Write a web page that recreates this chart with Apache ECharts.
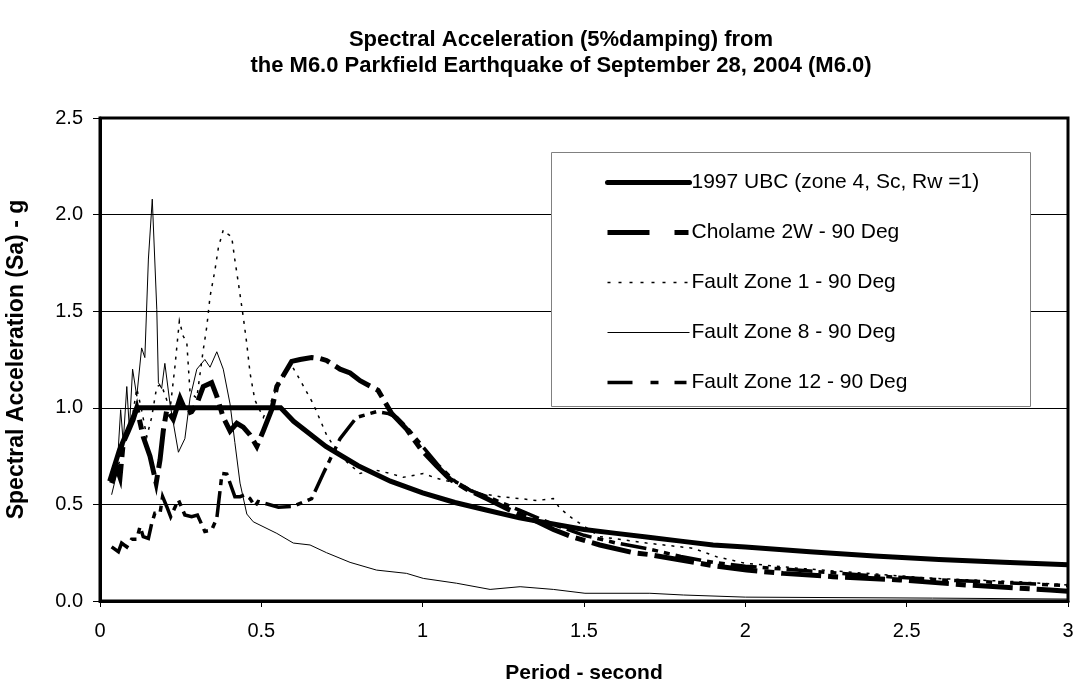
<!DOCTYPE html>
<html>
<head>
<meta charset="utf-8">
<script src="https://cdn.jsdelivr.net/npm/echarts@6/dist/echarts.min.js"></script>
<style>
html,body{margin:0;padding:0;background:#fff;}
#chart{width:1074px;height:683px;}
</style>
</head>
<body>
<div id="chart"></div>
<script>
var titleLines = ["Spectral Acceleration (5%damping) from", "the M6.0 Parkfield Earthquake of September 28, 2004 (M6.0)"];
var xAxisName = "Period - second";
var yAxisName = "Spectral Acceleration (Sa) - g";
var seriesNames = ["1997 UBC (zone 4, Sc, Rw =1)", "Cholame 2W - 90 Deg", "Fault Zone 1 - 90 Deg", "Fault Zone 8 - 90 Deg", "Fault Zone 12 - 90 Deg"];

var ubc = [[0.03,0.62],[0.06,0.78],[0.09,0.9],[0.115,1.0],[0.56,1.0],[0.6,0.93],[0.7,0.8],[0.8,0.7],[0.9,0.62],[1.0,0.56],[1.1,0.51],[1.2,0.47],[1.3,0.43],[1.4,0.40],[1.5,0.37],[1.6,0.35],[1.7,0.33],[1.8,0.31],[1.9,0.29],[2.0,0.28],[2.2,0.255],[2.4,0.233],[2.6,0.215],[2.8,0.2],[3.0,0.187]];

var cholame = [[0.036,0.61],[0.052,0.69],[0.062,0.64],[0.072,0.82],[0.088,0.88],[0.103,0.94],[0.114,1.0],[0.134,0.85],[0.155,0.75],[0.174,0.61],[0.186,0.73],[0.196,0.88],[0.207,0.99],[0.227,0.94],[0.248,1.05],[0.269,0.97],[0.284,0.98],[0.300,1.02],[0.320,1.11],[0.346,1.13],[0.362,1.06],[0.382,0.95],[0.403,0.88],[0.424,0.92],[0.444,0.90],[0.465,0.86],[0.486,0.80],[0.506,0.88],[0.532,0.99],[0.548,1.11],[0.594,1.24],[0.62,1.25],[0.656,1.26],[0.682,1.255],[0.702,1.245],[0.744,1.20],[0.775,1.18],[0.806,1.14],[0.862,1.09],[0.904,0.97],[0.950,0.89],[0.997,0.78],[1.043,0.70],[1.085,0.63],[1.136,0.58],[1.198,0.53],[1.271,0.47],[1.343,0.42],[1.405,0.37],[1.467,0.33],[1.549,0.29],[1.653,0.25],[1.704,0.24],[1.911,0.18],[2.004,0.16],[2.117,0.143],[2.272,0.126],[2.479,0.109],[2.686,0.083],[2.944,0.057],[3.0,0.05]];

var faultZone1 = [[0.036,0.62],[0.06,0.72],[0.08,0.85],[0.10,0.95],[0.114,1.10],[0.13,0.98],[0.145,0.85],[0.16,0.95],[0.176,1.11],[0.19,1.12],[0.205,1.05],[0.217,0.99],[0.232,1.21],[0.246,1.45],[0.258,1.37],[0.269,1.34],[0.279,1.08],[0.30,1.05],[0.32,1.30],[0.331,1.42],[0.341,1.575],[0.356,1.71],[0.367,1.83],[0.382,1.92],[0.395,1.90],[0.408,1.886],[0.418,1.765],[0.429,1.644],[0.444,1.47],[0.455,1.33],[0.465,1.18],[0.480,1.04],[0.506,0.95],[0.532,1.04],[0.56,1.15],[0.594,1.22],[0.620,1.144],[0.661,1.02],[0.702,0.86],[0.744,0.75],[0.806,0.66],[0.847,0.68],[0.90,0.66],[0.94,0.64],[1.002,0.66],[1.043,0.635],[1.105,0.61],[1.178,0.557],[1.24,0.54],[1.302,0.53],[1.353,0.52],[1.405,0.53],[1.425,0.48],[1.462,0.43],[1.549,0.333],[1.694,0.30],[1.839,0.273],[1.911,0.229],[2.0,0.195],[2.169,0.169],[2.376,0.143],[2.582,0.117],[2.841,0.10],[3.0,0.083]];

var faultZone8 = [[0.036,0.55],[0.052,0.66],[0.064,0.99],[0.072,0.82],[0.083,1.11],[0.091,0.89],[0.101,1.20],[0.114,1.06],[0.129,1.31],[0.139,1.26],[0.150,1.77],[0.162,2.08],[0.176,1.51],[0.181,1.13],[0.191,1.10],[0.201,1.23],[0.217,1.02],[0.243,0.77],[0.263,0.84],[0.279,1.05],[0.300,1.20],[0.325,1.25],[0.341,1.21],[0.362,1.29],[0.382,1.20],[0.403,1.02],[0.418,0.82],[0.434,0.61],[0.455,0.45],[0.475,0.41],[0.548,0.35],[0.599,0.30],[0.651,0.29],[0.702,0.25],[0.775,0.20],[0.857,0.16],[0.950,0.143],[1.002,0.117],[1.105,0.092],[1.209,0.06],[1.302,0.074],[1.405,0.06],[1.503,0.04],[1.704,0.04],[1.808,0.031],[2.0,0.02],[2.58,0.015],[3.0,0.01]];

var faultZone12 = [[0.036,0.28],[0.057,0.255],[0.067,0.30],[0.083,0.28],[0.098,0.32],[0.114,0.32],[0.124,0.385],[0.134,0.333],[0.150,0.324],[0.160,0.40],[0.170,0.454],[0.186,0.454],[0.194,0.54],[0.207,0.488],[0.219,0.436],[0.243,0.523],[0.263,0.445],[0.284,0.436],[0.302,0.445],[0.325,0.36],[0.346,0.367],[0.362,0.428],[0.374,0.60],[0.378,0.66],[0.393,0.657],[0.418,0.54],[0.434,0.54],[0.450,0.55],[0.465,0.53],[0.480,0.49],[0.490,0.515],[0.501,0.51],[0.553,0.485],[0.599,0.49],[0.656,0.53],[0.692,0.66],[0.744,0.84],[0.795,0.95],[0.857,0.98],[0.894,0.97],[0.92,0.95],[0.95,0.90],[1.0,0.80],[1.05,0.70],[1.1,0.62],[1.15,0.57],[1.2,0.54],[1.3,0.47],[1.4,0.40],[1.5,0.34],[1.6,0.30],[1.7,0.27],[1.8,0.23],[1.9,0.20],[2.0,0.18],[2.2,0.155],[2.4,0.13],[2.6,0.11],[2.8,0.095],[3.0,0.08]];

var xTicks = {min:0, max:3, interval:0.5};
var yTicks = {min:0, max:2.5, interval:0.5};

var FONT = "'Liberation Sans', Arial, sans-serif";
var chart = echarts.init(document.getElementById('chart'), null, {renderer:'canvas'});

var styles = [
  {width: 5, plot: 'solid', legend: 'solid', z: 3},
  {width: 5, plot: [40, 7, 10, 7], legend: [42, 25, 14, 25], z: 4},
  {width: 1.5, plot: [3, 6], legend: [3, 8], z: 2},
  {width: 1, plot: 'solid', legend: 'solid', z: 2},
  {width: 3.5, plot: [26, 6, 6, 6, 6, 6], legend: [25, 18, 8, 16, 12, 20], z: 3}
];
var datasets = [ubc, cholame, faultZone1, faultZone8, faultZone12];

var series = seriesNames.map(function(n, i){
  return {
    name: n, type: 'line', data: datasets[i], symbol: 'none', showSymbol: false,
    color: '#000', itemStyle: {color: '#000'},
    lineStyle: {color: '#000', width: styles[i].width, type: styles[i].plot, cap: 'butt', join: 'miter'},
    z: styles[i].z, animation: false
  };
});

var legendData = seriesNames.map(function(n, i){
  return {
    name: n,
    itemStyle: {opacity: 0},
    lineStyle: {color: '#000', width: styles[i].width, type: styles[i].legend, cap: i === 0 ? 'round' : 'butt'}
  };
});

var option = {
  backgroundColor: '#fff',
  animation: false,
  title: {
    text: titleLines.join('\n'),
    left: 556, top: 22, textAlign: 'center',
    textStyle: {fontFamily: FONT, fontSize: 22, fontWeight: 'bold', color: '#000', lineHeight: 26}
  },
  grid: {left: 100, right: 6, top: 118, bottom: 82, show: true, borderColor: '#000', borderWidth: 3,
         backgroundColor: 'transparent', containLabel: false, outerBoundsMode: 'none'},
  xAxis: {
    type: 'value', min: xTicks.min, max: xTicks.max, interval: xTicks.interval,
    name: xAxisName, nameLocation: 'middle', nameGap: 62,
    nameTextStyle: {fontFamily: FONT, fontSize: 21, fontWeight: 'bold', color: '#000'},
    axisLine: {show: true, lineStyle: {color: '#000', width: 3}},
    axisTick: {show: true, inside: false, length: 6, lineStyle: {color: '#000', width: 1}},
    axisLabel: {fontFamily: FONT, fontSize: 20, color: '#000', margin: 20},
    splitLine: {show: false}
  },
  yAxis: {
    type: 'value', min: yTicks.min, max: yTicks.max, interval: yTicks.interval,
    name: yAxisName, nameLocation: 'middle', nameGap: 72,
    nameTextStyle: {fontFamily: FONT, fontSize: 23, fontWeight: 'bold', color: '#000'},
    axisLine: {show: true, lineStyle: {color: '#000', width: 3}},
    axisTick: {show: true, inside: false, length: 7, lineStyle: {color: '#000', width: 1}},
    axisLabel: {fontFamily: FONT, fontSize: 20, color: '#000', margin: 17, formatter: function(v){return v.toFixed(1);}},
    splitLine: {show: true, lineStyle: {color: '#000', width: 1}}
  },
  graphic: [{
    type: 'rect', left: 551, top: 152, z: 5,
    shape: {width: 479, height: 254},
    style: {fill: '#fff', stroke: '#808080', lineWidth: 1}
  }],
  legend: {
    orient: 'vertical', left: 605, top: 172, z: 10,
    itemWidth: 82, itemHeight: 20, itemGap: 29,
    padding: 0, selectedMode: false,
    textStyle: {fontFamily: FONT, fontSize: 21, lineHeight: 20, color: '#000', padding: [0,0,0,-3]},
    data: legendData
  },
  series: series
};
chart.setOption(option);
</script>
</body>
</html>
